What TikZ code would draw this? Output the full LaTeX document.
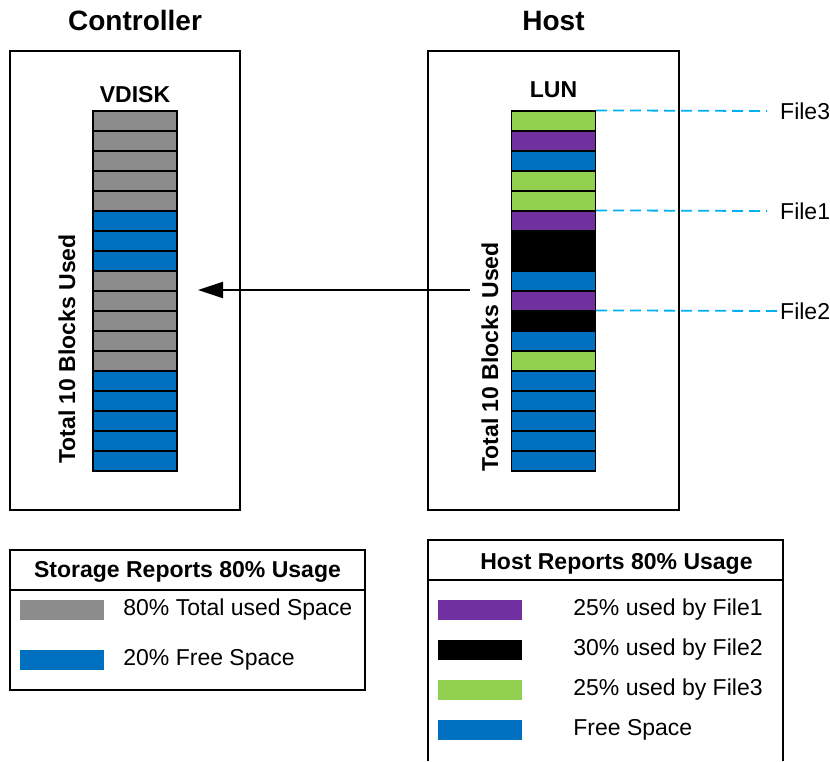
\documentclass[tikz,border=0pt]{standalone}
\usepackage{fontspec}
\setmainfont{Liberation Sans}
\usetikzlibrary{positioning}
\usetikzlibrary{arrows.meta}

\definecolor{usedgray}{RGB}{140,140,140}
\definecolor{freeblue}{RGB}{0,112,192}
\definecolor{filepurple}{RGB}{112,48,160}
\definecolor{filegreen}{RGB}{146,208,80}
\definecolor{dashcyan}{RGB}{0,176,240}

\tikzset{
        textnode/.style={inner sep=0pt, font=\fontsize{23}{27}\selectfont},
        % Panel titles
        node_title/.style={textnode, font=\bfseries\fontsize{28}{32}\selectfont, anchor=base},
        % Disk names and side labels
        node_name/.style={textnode, font=\bfseries\fontsize{23}{27}\selectfont},
        node_side/.style={node_name, rotate=90, anchor=base},
        % Outer panels
        node_panel/.style={rectangle, draw=black, line width=2pt, inner sep=0pt},
        % Storage blocks
        node_block/.style={rectangle, draw=black, line width=1.2pt, minimum width=84pt, minimum height=20pt, inner sep=0pt},
        % File labels
        node_file/.style={textnode, anchor=west, inner xsep=13pt},
        % Connectors
        link_dashed/.style={dashcyan, line width=1.8pt, dash pattern=on 11pt off 6pt},
        link_arrow/.style={-{Triangle[length=25pt,width=16pt]}, line width=2pt},
        % Legends
        legend_frame/.style={draw=black, line width=1.5pt},
        legend_head/.style={node_name, anchor=base},
        legend_swatch/.style={rectangle, minimum width=84pt, minimum height=20pt, inner sep=0pt},
        legend_text/.style={textnode}
}

\begin{document}
\begin{tikzpicture}[x=1pt, y=-1pt]
    \useasboundingbox (0,0) rectangle (830,761);

    % panels
    \node[node_panel, minimum width=230pt, minimum height=459pt] (ctrl_box) at (125,280.5) {};
    \node[node_panel, minimum width=251pt, minimum height=459pt] (host_box) at (553.5,280.5) {};
    \node[node_title] (ctrl_title) at (135,30) {Controller};
    \node[node_title] (host_title) at (553.5,30) {Host};

    % VDISK column
    \foreach \c [count=\i] in {usedgray,usedgray,usedgray,usedgray,usedgray,
            freeblue,freeblue,freeblue,
            usedgray,usedgray,usedgray,usedgray,usedgray,
            freeblue,freeblue,freeblue,freeblue,freeblue}
        \node[node_block, fill=\c] (vd\i) at (135,101+20*\i) {};
    \node[node_name, above=7pt of vd1] (vd_name) {VDISK};
    \node[node_side] (vd_total) at (75,349) {Total 10 Blocks Used};

    % LUN column
    \foreach \c [count=\i] in {filegreen,filepurple,freeblue,filegreen,filegreen,
            filepurple,black,black,freeblue,filepurple,black,freeblue,filegreen,
            freeblue,freeblue,freeblue,freeblue,freeblue}
        \node[node_block, fill=\c] (lun\i) at (553.5,101+20*\i) {};
    \node[node_name, above=12pt of lun1] (lun_name) {LUN};
    \node[node_side] (lun_total) at (498,357) {Total 10 Blocks Used};

    % file markers
    \node[node_file] (file3) at (767,111) {File3};
    \node[node_file] (file1) at (767,211) {File1};
    \node[node_file] (file2) at (767,311) {File2};
    \draw[link_dashed] (lun1.north east) -- (file3.west);
    \draw[link_dashed] (lun6.north east) -- (file1.west);
    \draw[link_dashed] (lun11.north east) -- ([xshift=15pt]file2.west);

    % report arrow
    \coordinate (arrow_start) at (470,290);
    \coordinate (arrow_end) at (198,290);
    \draw[link_arrow] (arrow_start) -- (arrow_end);

    % storage legend
    \draw[legend_frame] (10,550) rectangle (365,690);
    \draw[legend_frame] (10,590) -- (365,590);
    \node[legend_head] (st_head) at (187.5,577) {Storage Reports 80\% Usage};
    \node[legend_swatch, fill=usedgray] (st_used) at (62,610) {};
    \node[legend_text, right=19pt of st_used] (st_used_txt) {80\% Total used Space};
    \node[legend_swatch, fill=freeblue] (st_free) at (62,660) {};
    \node[legend_text, right=19pt of st_free] (st_free_txt) {20\% Free Space};

    % host legend
    \draw[legend_frame] (428,761) -- (428,540) -- (783,540) -- (783,761);
    \draw[legend_frame] (428,580) -- (783,580);
    \node[legend_head] (hs_head) at (616.5,569) {Host Reports 80\% Usage};
    \node[legend_swatch, fill=filepurple] (hs_file1) at (480,610) {};
    \node[legend_text, right=51pt of hs_file1] (hs_file1_txt) {25\% used by File1};
    \node[legend_swatch, fill=black] (hs_file2) at (480,650) {};
    \node[legend_text, right=51pt of hs_file2] (hs_file2_txt) {30\% used by File2};
    \node[legend_swatch, fill=filegreen] (hs_file3) at (480,690) {};
    \node[legend_text, right=51pt of hs_file3] (hs_file3_txt) {25\% used by File3};
    \node[legend_swatch, fill=freeblue] (hs_free) at (480,730) {};
    \node[legend_text, right=51pt of hs_free] (hs_free_txt) {Free Space};
\end{tikzpicture}
\end{document}
